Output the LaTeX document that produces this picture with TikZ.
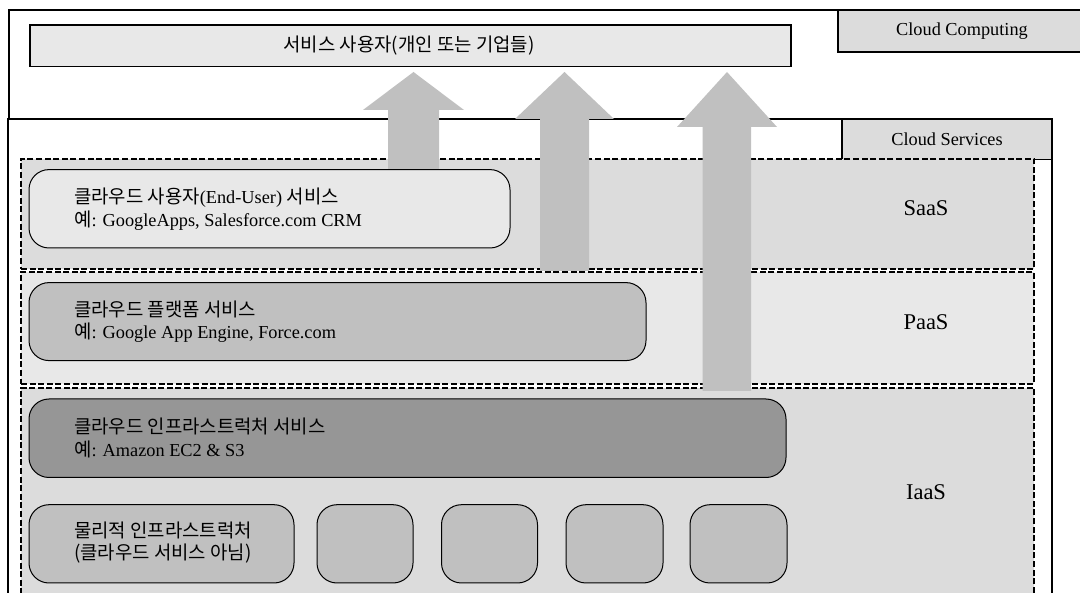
\documentclass[tikz,border=0pt]{standalone}
\usepackage{fontspec}
\setmainfont{Liberation Serif}
\newfontfamily\kr{Noto Sans CJK KR}[Scale=1.03]
\definecolor{lightA}{HTML}{E8E8E8}
\definecolor{bandgray}{HTML}{DCDCDC}
\definecolor{midgray}{HTML}{C0C0C0}
\definecolor{deepgray}{HTML}{969696}
\definecolor{arrowgray}{HTML}{C0C0C0}
\tikzset{
  plainbox/.style={draw=black, line width=1.2pt, inner sep=0pt, outer sep=0pt, anchor=north west},
  band/.style={draw=black, line width=2pt, dash pattern=on 6pt off 2.6pt, inner sep=0pt, outer sep=0pt, anchor=north west},
  rbox/.style={draw=black, line width=1pt, rounded corners=20pt, inner sep=0pt, outer sep=0pt, anchor=north west},
  txt/.style={inner sep=0pt, align=left, anchor=west, font=\fontsize{18.3}{22.6}\selectfont},
  ctxt/.style={inner sep=0pt, font=\fontsize{18.3}{22.6}\selectfont},
  lbl/.style={inner sep=0pt, font=\fontsize{22.5}{25}\selectfont},
  uparrow/.style={fill=arrowgray, draw=none},
}
\begin{document}
\begin{tikzpicture}[x=1pt,y=-1pt]
\useasboundingbox (0,0) rectangle (1080,593);
\clip (0,0) rectangle (1080,593);
% Cloud Computing frame
\node[plainbox, fill=white, minimum width=1100, minimum height=620] (cloudcomputing) at (9,10) {};
\node[plainbox, fill=bandgray, minimum width=260, minimum height=42] (cclabel) at (838,10) {};
\node[ctxt] (cctext) at (962,31) {Cloud Computing};
% service users
\node[plainbox, fill=lightA, minimum width=761, minimum height=41.5] (users) at (30,25) {};
\node[ctxt] (userstext) at (409,45.5) {{\kr 서비스 사용자(개인 또는 기업들)}};
% Cloud Services frame
\node[plainbox, fill=white, minimum width=1044, minimum height=500] (cloudservices) at (8,119) {};
\node[plainbox, fill=bandgray, minimum width=210, minimum height=40.5] (cslabel) at (842,119) {};
\node[ctxt] (cstext) at (947,139.5) {Cloud Services};
% bands
\node[band, fill=bandgray, minimum width=1013, minimum height=110.5] (saas) at (21,158.6) {};
\node[band, fill=lightA, minimum width=1013, minimum height=112] (paas) at (21,272) {};
\node[band, fill=bandgray, minimum width=1013, minimum height=250] (iaas) at (21,387.6) {};
\node[lbl] (saaslbl) at (926,208.5) {SaaS};
\node[lbl] (paaslbl) at (926,322) {PaaS};
\node[lbl] (iaaslbl) at (926,492) {IaaS};
% SaaS box
\node[rbox, fill=lightA, minimum width=481, minimum height=78.4] (saasbox) at (29,169.6) {};
\node[txt] (saastext) at (74,209) {{\kr 클라우드 사용자}(End-User) {\kr 서비스}\\{\kr 예}: GoogleApps, Salesforce.com CRM};
% PaaS box
\node[rbox, fill=midgray, minimum width=617, minimum height=78] (paasbox) at (29,282.6) {};
\node[txt] (paastext) at (74,321.5) {{\kr 클라우드 플랫폼 서비스}\\{\kr 예}: Google App Engine, Force.com};
% IaaS box
\node[rbox, fill=deepgray, minimum width=757, minimum height=78.5] (iaasbox) at (29,399) {};
\node[txt] (iaastext) at (74,438) {{\kr 클라우드 인프라스트럭처 서비스}\\{\kr 예}: Amazon EC2 \& S3};
% physical infrastructure
\node[rbox, fill=midgray, minimum width=265, minimum height=78.3] (phys) at (29,504.7) {};
\node[txt] (phystext) at (74,542.5) {{\kr 물리적 인프라스트럭처}\\{\kr (클라우드 서비스 아님)}};
\node[rbox, fill=midgray, minimum width=96, minimum height=78.3] (res1) at (317,504.7) {};
\node[rbox, fill=midgray, minimum width=96, minimum height=78.3] (res2) at (441.5,504.7) {};
\node[rbox, fill=midgray, minimum width=97, minimum height=78.3] (res3) at (566,504.7) {};
\node[rbox, fill=midgray, minimum width=97, minimum height=78.3] (res4) at (690,504.7) {};
% block arrows
\fill[uparrow] (388,169) -- (388,110) -- (363,110) -- (413.5,72) -- (464,110) -- (439,110) -- (439,169) -- cycle;
\fill[uparrow] (540,271) -- (540,119) -- (515,119) -- (564.5,72) -- (614,119) -- (589,119) -- (589,271) -- cycle;
\fill[uparrow] (702.5,391) -- (702.5,127) -- (677,127) -- (727,72) -- (777,127) -- (751,127) -- (751,391) -- cycle;
\end{tikzpicture}
\end{document}
